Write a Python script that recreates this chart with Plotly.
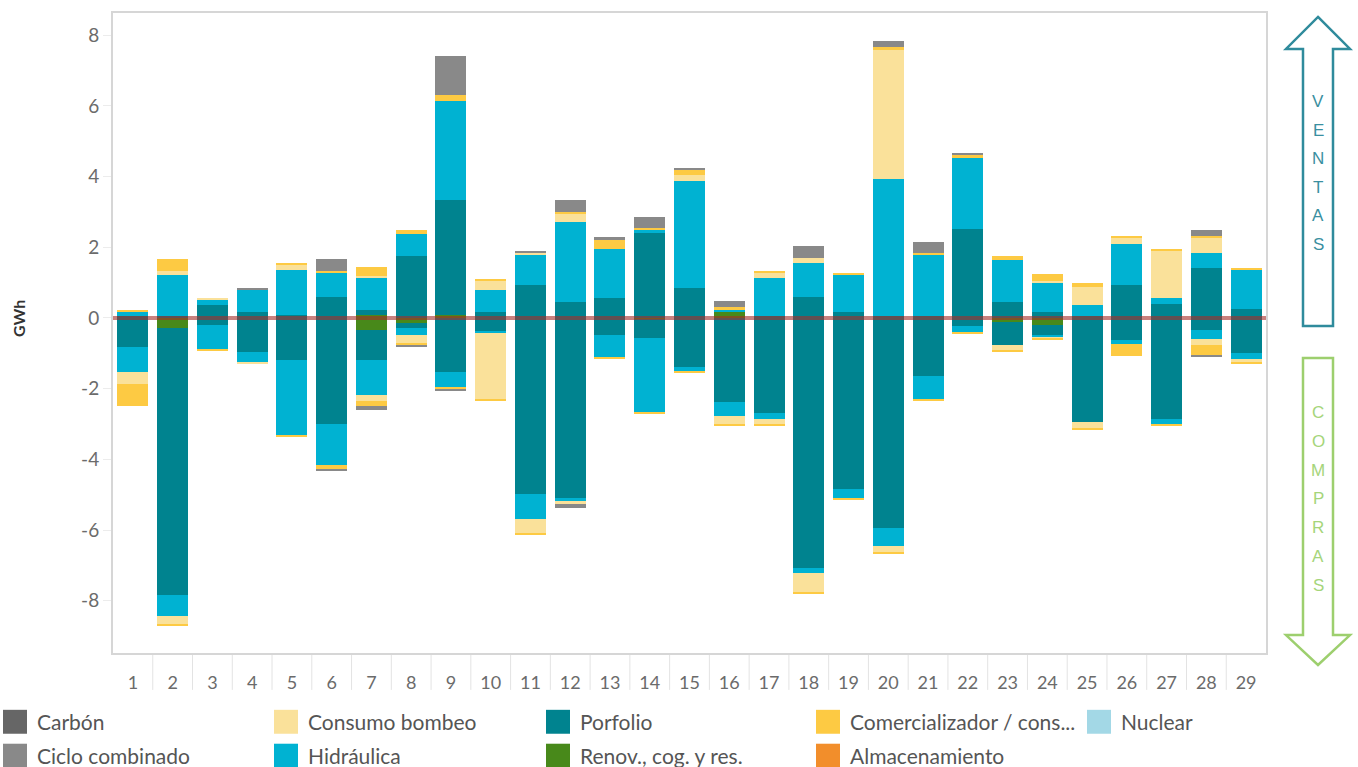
import plotly.graph_objects as go

days = list(range(1, 30))

renov_ventas = [0, 0, 0, 0, 0, 0, 0.08, 0, 0.08, 0, 0, 0, 0, 0, 0, 0.17, 0, 0, 0, 0, 0, 0, 0, 0, 0, 0, 0, 0, 0]
renov_compras = [0, -0.28, 0, 0, 0, 0, -0.34, -0.14, 0, 0, 0, 0, 0, -0.04, 0, 0, 0, 0, 0, 0, 0, 0, -0.11, -0.20, 0, 0, 0, 0, 0]

porfolio_ventas = [0.06, 0.06, 0.37, 0.17, 0.08, 0.59, 0.14, 1.75, 3.27, 0.17, 0.93, 0.45, 0.56, 2.40, 0.85,
                   0, 0.06, 0.59, 0.17, 0.06, 0.06, 2.51, 0.45, 0.17, 0.06, 0.93, 0.39, 1.41, 0.25]
porfolio_compras = [-0.82, -7.56, -0.20, -0.96, -1.18, -2.99, -0.85, -0.14, -1.52, -0.39, -4.99, -5.08, -0.48, -0.54, -1.38,
                    -2.37, -2.68, -7.08, -4.85, -5.95, -1.64, -0.23, -0.65, -0.28, -2.93, -0.62, -2.85, -0.34, -0.99]

hidraulica_ventas = [0.10, 1.16, 0.14, 0.62, 1.27, 0.68, 0.90, 0.62, 2.79, 0.62, 0.85, 2.28, 1.38, 0.11, 3.02,
                     0.06, 1.07, 0.96, 1.04, 3.86, 1.75, 2.03, 1.18, 0.82, 0.31, 1.16, 0.17, 0.42, 1.10]
hidraulica_compras = [-0.70, -0.59, -0.68, -0.28, -2.12, -1.18, -0.99, -0.20, -0.42, -0.03, -0.71, -0.11, -0.62, -2.09, -0.11,
                      -0.39, -0.17, -0.14, -0.25, -0.51, -0.65, -0.17, 0, -0.06, 0, -0.11, -0.14, -0.25, -0.17]

bombeo_ventas = [0, 0.11, 0.06, 0, 0.14, 0, 0.08, 0, 0, 0.25, 0.06, 0.20, 0, 0, 0.17,
                 0, 0.14, 0.14, 0, 3.67, 0, 0, 0, 0.06, 0.51, 0.17, 1.33, 0.42, 0]
bombeo_compras = [-0.34, -0.23, 0, -0.06, 0, 0, -0.17, -0.25, 0, -1.86, -0.39, -0.08, 0, 0, 0,
                  -0.23, -0.14, -0.54, 0, -0.17, 0, 0, -0.14, -0.03, -0.17, 0, 0, -0.17, -0.08]

comerc_ventas = [0.06, 0.34, 0, 0, 0.06, 0.06, 0.25, 0.11, 0.17, 0.06, 0, 0.08, 0.28, 0.03, 0.14,
                 0.08, 0.06, 0, 0.06, 0.08, 0.04, 0.06, 0.11, 0.20, 0.11, 0.06, 0.06, 0.06, 0.06]
comerc_compras = [-0.62, -0.06, -0.06, 0, -0.06, -0.11, -0.14, -0.03, -0.06, -0.06, -0.06, 0, -0.06, -0.06, -0.06,
                  -0.06, -0.06, -0.06, -0.06, -0.06, -0.06, -0.04, -0.06, -0.06, -0.06, -0.34, -0.06, -0.28, -0.06]

ciclo_ventas = [0, 0, 0, 0.06, 0, 0.34, 0, 0, 1.10, 0, 0.06, 0.34, 0.06, 0.31, 0.06,
                0.17, 0, 0.34, 0, 0.17, 0.31, 0.06, 0, 0, 0, 0, 0, 0.17, 0]
ciclo_compras = [0, 0, 0, 0, 0, -0.06, -0.11, -0.06, -0.06, 0, 0, -0.11, 0, 0, 0,
                 0, 0, 0, 0, 0, 0, 0, 0, 0, 0, 0, 0, -0.06, 0]

zeros = [0] * 29
carbon_ventas = zeros
carbon_compras = zeros
almac_ventas = zeros
almac_compras = zeros
nuclear_ventas = zeros
nuclear_compras = zeros

y_ticks = [-8, -6, -4, -2, 0, 2, 4, 6, 8]
y_ticktext = ["-8", "-6", "-4", "-2", "0", "2", "4", "6", "8"]

# stacking order (closest to zero first)
series = [
    ("Renov., cog. y res.", "#48891a", renov_ventas, renov_compras),
    ("Porfolio", "#00838f", porfolio_ventas, porfolio_compras),
    ("Hidráulica", "#00b2d2", hidraulica_ventas, hidraulica_compras),
    ("Consumo bombeo", "#fae19a", bombeo_ventas, bombeo_compras),
    ("Comercializador / cons...", "#fdca43", comerc_ventas, comerc_compras),
    ("Ciclo combinado", "#898989", ciclo_ventas, ciclo_compras),
    ("Carbón", "#666666", carbon_ventas, carbon_compras),
    ("Almacenamiento", "#f28e2b", almac_ventas, almac_compras),
    ("Nuclear", "#a3d8e6", nuclear_ventas, nuclear_compras),
]
colors = {s[0]: s[1] for s in series}

legend_columns = [
    ["Carbón", "Ciclo combinado"],
    ["Consumo bombeo", "Hidráulica"],
    ["Porfolio", "Renov., cog. y res."],
    ["Comercializador / cons...", "Almacenamiento"],
    ["Nuclear"],
]

fig = go.Figure()
for name, color, v, c in series:
    for vals in (v, c):
        fig.add_trace(go.Bar(x=days, y=vals, name=name, marker_color=color,
                             marker_line_width=0, width=0.78, showlegend=False))

W, H = 1358, 767
L, R, T, B = 113, 1266, 11, 653


def px(x):
    return (x - L) / (R - L)


def py(y):
    return (B - y) / (B - T)


shapes = []
annotations = []

# zero line
shapes.append(dict(type="line", xref="paper", yref="y", x0=0, x1=1, y0=0, y1=0,
                   line=dict(color="rgba(165,45,40,0.6)", width=4), layer="above"))

# category separators under the x axis
for d in days[:-1]:
    shapes.append(dict(type="line", xref="x", yref="paper", x0=d + 0.5, x1=d + 0.5,
                       y0=py(655), y1=py(690), line=dict(color="#e3e3e3", width=1)))


def path(points):
    return "M " + " L ".join(f"{px(x):.5f},{py(y):.5f}" for x, y in points) + " Z"


ventas_pts = [(1318, 15), (1350, 47), (1333, 47), (1333, 325), (1303, 325), (1303, 47), (1286, 47)]
compras_pts = [(1303, 357), (1333, 357), (1333, 635), (1350, 635), (1318, 665), (1286, 635), (1303, 635)]
shapes.append(dict(type="path", xref="paper", yref="paper", path=path(ventas_pts),
                   line=dict(color="#2f8b9c", width=2.5), fillcolor="white"))
shapes.append(dict(type="path", xref="paper", yref="paper", path=path(compras_pts),
                   line=dict(color="#9dcf6e", width=2.5), fillcolor="white"))

for i, ch in enumerate("VENTAS"):
    annotations.append(dict(x=px(1318), y=py(100 + i * 28.6), xref="paper", yref="paper", text=ch,
                            xanchor="center", yanchor="middle", showarrow=False,
                            font=dict(family="Liberation Sans", size=17, color="#3a8fa0")))
for i, ch in enumerate("COMPRAS"):
    annotations.append(dict(x=px(1318), y=py(412 + i * 28.8), xref="paper", yref="paper", text=ch,
                            xanchor="center", yanchor="middle", showarrow=False,
                            font=dict(family="Liberation Sans", size=17, color="#a5d57a")))

# y axis title
annotations.append(dict(x=px(18), y=py(318), xref="paper", yref="paper", text="<b>GWh</b>", textangle=-90,
                        xanchor="center", yanchor="middle", showarrow=False,
                        font=dict(family="Lato", size=16, color="#333333")))

# legend
col_x = [3, 274, 546, 816, 1087]
row_y = [722, 756]
for ci, col in enumerate(legend_columns):
    for ri, name in enumerate(col):
        x0 = col_x[ci]
        yc = row_y[ri]
        shapes.append(dict(type="rect", xref="paper", yref="paper", x0=px(x0), x1=px(x0 + 24),
                           y0=py(yc + 12), y1=py(yc - 12), fillcolor=colors[name], line_width=0))
        annotations.append(dict(x=px(x0 + 32), y=py(yc), xref="paper", yref="paper", text=name,
                                xanchor="left", yanchor="middle", showarrow=False,
                                font=dict(family="Lato", size=21, color="#555555")))

fig.update_layout(
    width=W, height=H,
    margin=dict(l=L, r=W - R, t=T, b=H - B),
    barmode="relative",
    bargap=0,
    plot_bgcolor="white",
    paper_bgcolor="white",
    shapes=shapes,
    annotations=annotations,
    font=dict(family="Lato"),
    xaxis=dict(range=[0.5, 29.5], tickvals=days, ticktext=[str(d) for d in days],
               ticks="outside", ticklen=12, tickcolor="rgba(0,0,0,0)",
               tickfont=dict(size=18, color="#6b6b6b"),
               showline=True, linecolor="#d6d6d6", linewidth=2, mirror=True,
               showgrid=False, zeroline=False),
    yaxis=dict(range=[-9.48, 8.63], tickvals=y_ticks, ticktext=y_ticktext,
               ticks="outside", ticklen=8, tickcolor="#ececec",
               tickfont=dict(size=19, color="#6b6b6b"),
               showline=True, linecolor="#d6d6d6", linewidth=2, mirror=True,
               showgrid=False, zeroline=False),
)

fig.write_html("out.html", config={"displayModeBar": False},
               post_script="document.body.style.margin='0';document.body.style.overflow='hidden';")
